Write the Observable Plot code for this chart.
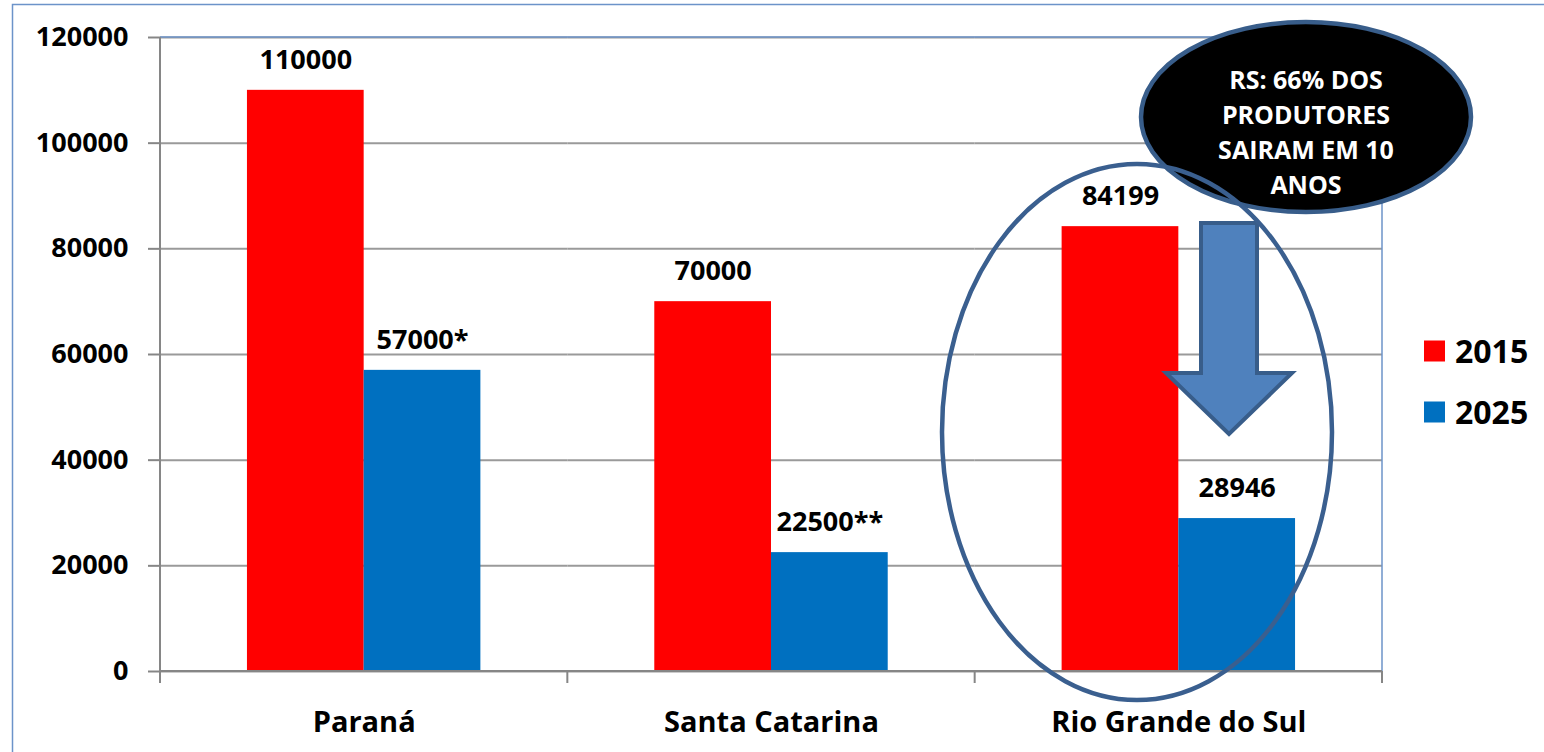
<!DOCTYPE html>
<html>
<head>
<meta charset="utf-8">
<script src="https://cdn.jsdelivr.net/npm/d3@7"></script>
<script src="https://cdn.jsdelivr.net/npm/@observablehq/plot@0.6"></script>
<style>
  body { margin: 0; background: #fff; }
  #wrap { position: relative; width: 1544px; height: 752px; overflow: hidden; }
</style>
</head>
<body>
<div id="wrap"></div>
<script>
const categories = ["Paraná", "Santa Catarina", "Rio Grande do Sul"];
const years = ["2015", "2025"];
const values2015 = [110000, 70000, 84199];
const values2025 = [57000, 22500, 28946];
const labels2015 = ["110000", "70000", "84199"];
const labels2025 = ["57000*", "22500**", "28946"];
const yTicks = [0, 20000, 40000, 60000, 80000, 100000, 120000];
const seriesColors = ["#FF0000", "#0070C0"];
const calloutLines = ["RS: 66% DOS", "PRODUTORES", "SAIRAM EM 10", "ANOS"];

const FONT = '"Open Sans", "DejaVu Sans", sans-serif';

const data = [];
categories.forEach((c, i) => {
  data.push({category: c, year: years[0], value: values2015[i], label: labels2015[i]});
  data.push({category: c, year: years[1], value: values2025[i], label: labels2025[i]});
});

const plot = Plot.plot({
  width: 1544,
  height: 752,
  marginLeft: 160,
  marginRight: 162,
  marginTop: 37,
  marginBottom: 81,
  style: {fontFamily: FONT, background: "white", overflow: "visible"},
  fx: {domain: categories, padding: 0, label: null, round: false},
  x: {domain: years, paddingInner: 0, paddingOuter: 0.745, round: false, axis: null},
  y: {domain: [0, 120000], label: null},
  color: {domain: years, range: seriesColors},
  marks: [
    Plot.gridY(yTicks, {stroke: "#9A9A9A", strokeOpacity: 1, strokeWidth: 2}),
    Plot.barY(data, {fx: "category", x: "year", y: "value", fill: "year"}),
    Plot.text(data, {fx: "category", x: "year", y: "value", text: "label", dy: -30,
      fontSize: 27, fontWeight: "bold", fill: "black"}),
    Plot.axisY(yTicks, {tickSize: 12, tickPadding: 20, fontSize: 27, fontWeight: "bold",
      stroke: "#868686", fill: "black", strokeWidth: 2, tickFormat: d => String(d), label: null}),
    Plot.axisFx({anchor: "bottom", tickSize: 0, tickPadding: 40, fontSize: 29,
      fontWeight: "bold", fill: "black", label: null})
  ]
});

document.getElementById("wrap").appendChild(plot);

// Decorations drawn with the plot's own scales
const svg = d3.select(plot);
const fx = plot.scale("fx");
const y = plot.scale("y");
const left = fx.apply(categories[0]);
const right = fx.apply(categories[categories.length - 1]) + fx.bandwidth;
const y0 = y.apply(0);
const yTop = y.apply(120000);

const deco = svg.append("g").attr("text-anchor", "start");
// plot area frame: top & right blue, left & bottom grey
deco.append("line").attr("x1", left).attr("x2", right).attr("y1", yTop).attr("y2", yTop)
  .attr("stroke", "#6C93C9").attr("stroke-width", 1.5);
deco.append("line").attr("x1", right).attr("x2", right).attr("y1", yTop).attr("y2", y0)
  .attr("stroke", "#6C93C9").attr("stroke-width", 1.5);
deco.append("line").attr("x1", left).attr("x2", left).attr("y1", yTop).attr("y2", y0)
  .attr("stroke", "#868686").attr("stroke-width", 2);
deco.append("line").attr("x1", left).attr("x2", right).attr("y1", y0).attr("y2", y0)
  .attr("stroke", "#868686").attr("stroke-width", 2);
// category boundary ticks
const edges = categories.map(c => fx.apply(c)).concat([right]);
edges.forEach(e => {
  deco.append("line").attr("x1", e).attr("x2", e).attr("y1", y0).attr("y2", y0 + 12)
    .attr("stroke", "#868686").attr("stroke-width", 2);
});
// outer chart border
deco.append("path").attr("d", "M12.5,800V4.5H1600").attr("fill", "none")
  .attr("stroke", "#6C93C9").attr("stroke-width", 1.5);

// legend
years.forEach((yr, i) => {
  const cy = 351 + i * 61;
  deco.append("rect").attr("x", 1424).attr("y", cy - 10.5).attr("width", 21).attr("height", 21)
    .attr("fill", seriesColors[i]);
  deco.append("text").attr("x", 1455).attr("y", cy).attr("dy", "0.36em")
    .attr("text-anchor", "start")
    .attr("font-family", FONT).attr("font-size", 32).attr("font-weight", "bold")
    .attr("fill", "black").text(yr);
});

// callout (black ellipse)
deco.append("ellipse").attr("cx", 1306).attr("cy", 117).attr("rx", 165).attr("ry", 95)
  .attr("fill", "black").attr("stroke", "#385D8A").attr("stroke-width", 4.5);
calloutLines.forEach((t, i) => {
  deco.append("text").attr("x", 1306).attr("y", 80 + i * 35).attr("dy", "0.36em")
    .attr("text-anchor", "middle").attr("font-family", FONT).attr("font-size", 25)
    .attr("font-weight", "bold").attr("fill", "white").text(t);
});

// down arrow
deco.append("path")
  .attr("d", "M1201,223H1257V373H1292L1229,434L1166,373H1201Z")
  .attr("fill", "#4F81BD").attr("stroke", "#385D8A").attr("stroke-width", 4)
  .attr("stroke-linejoin", "miter");

// highlight ellipse around Rio Grande do Sul
deco.append("ellipse").attr("cx", 1137).attr("cy", 432).attr("rx", 195).attr("ry", 268)
  .attr("fill", "none").attr("stroke", "#3A5F8F").attr("stroke-width", 4.5);
</script>
</body>
</html>
